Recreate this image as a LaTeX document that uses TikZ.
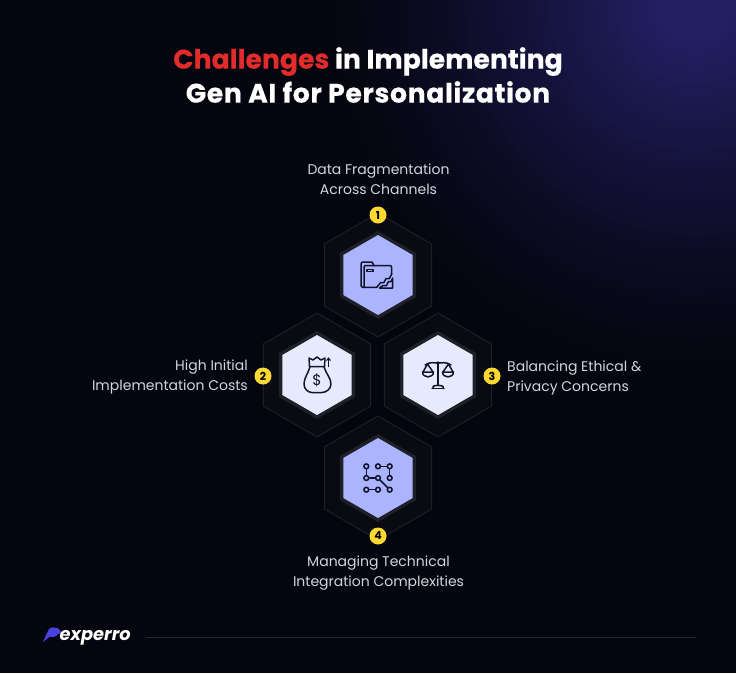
\documentclass[tikz,border=0pt]{standalone}
\usepackage{fontspec}
\setmainfont{Poppins}
\newfontfamily\heavyfont{Poppins}[BoldFeatures={FakeBold=0.35}]
\usetikzlibrary{shapes.geometric}
\definecolor{bgc}{HTML}{05050F}
\definecolor{glowc}{HTML}{231F63}
\definecolor{outerf}{HTML}{0A0A13}
\definecolor{outerl}{HTML}{1E1E2A}
\definecolor{ringc}{HTML}{1F1F28}
\definecolor{blueh}{HTML}{AAB4FF}
\definecolor{paleh}{HTML}{E6EAFC}
\definecolor{iconc}{HTML}{12132A}
\definecolor{badgec}{HTML}{FBD832}
\definecolor{redt}{HTML}{E22B2B}
\definecolor{labelc}{HTML}{D4D5DC}
\definecolor{logoc}{HTML}{4B40E0}
\definecolor{rulec}{HTML}{262633}
\tikzset{
  x=1pt,y=-1pt,
  hexpath/.style={regular polygon,regular polygon sides=6,shape border rotate=30,inner sep=0pt},
  outerhex/.style={hexpath,minimum size=124pt,fill=outerf,draw=outerl,line width=1pt},
  ringhex/.style={hexpath,minimum size=88pt,fill=ringc},
  innerblue/.style={hexpath,minimum size=80pt,fill=blueh},
  innerpale/.style={hexpath,minimum size=80pt,fill=paleh},
  badge/.style={circle,fill=badgec,minimum size=17pt,inner sep=0pt,text=black,font=\fontsize{11}{11}\selectfont\bfseries},
  lbl/.style={text=labelc,font=\fontsize{14}{20}\selectfont,inner sep=0pt},
  titletxt/.style={text=white,font=\heavyfont\fontsize{26.7}{34}\selectfont\bfseries,align=center,inner sep=0pt},
  iconline/.style={draw=iconc,line width=1.5pt,line cap=round,line join=round,fill=none},
  netdot/.style={circle,draw=iconc,line width=1.5pt,fill=none,minimum size=4.8pt,inner sep=0pt}
}
\begin{document}
\begin{tikzpicture}
\useasboundingbox (0,0) rectangle (736,673);
\fill[bgc] (0,0) rectangle (736,673);
\begin{scope}
\clip (0,0) rectangle (736,673);
\foreach \r in {380,374,...,8}{
  \pgfmathsetmacro{\mixv}{min(100,115*(1-\r/380)^1.35)}
  \fill[glowc!\mixv!bgc] (695,5) circle (\r pt);
}
\end{scope}

\node[titletxt] (title) at (368,75) {\textcolor{redt}{Challenges} in Implementing\\{\addfontfeature{LetterSpace=2.3}Gen AI for Personalization}};

% hexagons
\node[outerhex] (o1) at (378,275) {};
\node[outerhex] (o2) at (317,375) {};
\node[outerhex] (o3) at (438,375) {};
\node[outerhex] (o4) at (378,478) {};
\node[ringhex] (r1) at (378,275) {};
\node[ringhex] (r2) at (317,375) {};
\node[ringhex] (r3) at (438,375) {};
\node[ringhex] (r4) at (378,478) {};
\node[innerblue] (h1) at (378,275) {};
\node[innerpale] (h2) at (317,375) {};
\node[innerpale] (h3) at (438,375) {};
\node[innerblue] (h4) at (378,478) {};

% badges
\node[badge] (b1) at (378,215) {1};
\node[badge] (b2) at (263,376) {2};
\node[badge] (b3) at (492,376) {3};
\node[badge] (b4) at (378,536) {4};

% labels
\node[lbl,align=center] (t1) at (378.5,179.5) {Data Fragmentation\\Across Channels};
\node[lbl,align=right,anchor=east] (t2) at (248,377) {High Initial\\Implementation Costs};
\node[lbl,align=left,anchor=west] (t3) at (507,377.5) {Balancing Ethical \&\\Privacy Concerns};
\node[lbl,align=center] (t4) at (378.5,573) {Managing Technical\\Integration Complexities};

% folder icon
\begin{scope}[shift={(378,275)}]
  \draw[iconline] (-1.3,12.3) -- (-15,12.3) .. controls (-16.5,12.3) and (-17,11.3) .. (-17,10) -- (-17,-11) .. controls (-17,-12.5) and (-16,-13) .. (-15,-13) -- (-6,-13) -- (-4,-9.5) -- (12,-9.5) .. controls (13,-9.5) and (13.7,-8.5) .. (13.7,-7.5) -- (13.7,-1);
  \draw[iconline] (-14,12.3) -- (-14,-8) .. controls (-14,-9) and (-13,-9.5) .. (-12,-9.5) -- (-4,-9.5);
  \draw[iconline,line width=1.1pt] (-11,-5.5) -- (-5,-5.5) -- (-5,-3.2) -- (-11,-3.2) -- cycle;
  \draw[iconline] (-1.3,12.3) -- (2.7,7.5) -- (6,7.5) -- (8,3.5) -- (11.3,3.5) -- (13.7,-1);
  \draw[iconline] (1.5,13) -- (5,10.5) -- (8.5,10.5) -- (10.5,6.5) -- (13,6.5) -- (14.7,3) -- (14.7,13) -- cycle;
\end{scope}

% money bag icon
\begin{scope}[shift={(317,375)}]
  \draw[iconline] (-7.5,-8.5) -- (-8,-17) -- (-4,-15) -- (0,-18) -- (4,-15) -- (8,-17) -- (7.5,-8.5) -- cycle;
  \draw[iconline] (-7,-8.5) .. controls (-9,-1) and (-13,3) .. (-13,9) .. controls (-13,14) and (-9,17.5) .. (-5,17.5) -- (5,17.5) .. controls (9,17.5) and (14,14) .. (14,9) .. controls (14,3) and (9,-1) .. (7,-8.5);
  \node[text=iconc,inner sep=0pt,font=\fontsize{15}{15}\selectfont] (dollar) at (0,5) {\$};
  \draw[iconline,line width=1pt] (11.5,-8.5) -- (11.5,-17);
  \draw[iconline,line width=1pt] (9.7,-14.5) -- (11.5,-17) -- (13.3,-14.5);
\end{scope}

% scales icon
\begin{scope}[shift={(438,375)}]
  \draw[iconline] (0,-12) -- (0,10);
  \draw[iconline] (-5,13.5) -- (-5,11.5) .. controls (-4,10) and (4,10) .. (5,11.5) -- (5,13.5);
  \draw[iconline] (-6,13.5) -- (6,13.5);
  \draw[iconline] (-13,-10) .. controls (-8,-13.5) and (-4,-12) .. (0,-12) .. controls (4,-12) and (8,-13.5) .. (13,-10);
  \fill[iconc] (0,-12) circle (1.8pt);
  \draw[iconline] (-15,-3) -- (-10.5,-11) -- (-5,-3);
  \draw[iconline] (-15.5,-3) -- (-4.5,-3) .. controls (-4.5,3.5) and (-15.5,3.5) .. (-15.5,-3) -- cycle;
  \draw[iconline] (5,-3) -- (10.5,-11) -- (15,-3);
  \draw[iconline] (4.5,-3) -- (15.5,-3) .. controls (15.5,3.5) and (4.5,3.5) .. (4.5,-3) -- cycle;
\end{scope}

% network icon
\begin{scope}[shift={(378,478)}]
  \node[netdot] (n1) at (-11.7,-11.7) {};
  \node[netdot] (n2) at (0,-11.7) {};
  \node[netdot] (n3) at (11.7,-11.7) {};
  \node[netdot] (n4) at (-11.7,0) {};
  \node[netdot] (n5) at (0,0) {};
  \node[netdot] (n6) at (11.7,0) {};
  \node[netdot] (n7) at (-11.7,11.7) {};
  \node[netdot] (n8) at (0,11.7) {};
  \node[netdot] (n9) at (11.7,11.7) {};
  \draw[iconline] (n1) -- (n4);
  \draw[iconline] (n2) -- (n3);
  \draw[iconline] (n3) -- (n6);
  \draw[iconline] (n4) -- (n5);
  \draw[iconline] (n5) -- (n9);
  \draw[iconline] (n7) -- (n8);
\end{scope}

% logo
\fill[logoc] (43,642) -- (47.5,632) .. controls (48.5,627.5) and (53,626.5) .. (56,628) .. controls (58,627.5) and (60.5,630) .. (61.5,633) -- (58,634) .. controls (56,637) and (52,637.5) .. (50,636.5) -- cycle;
\node[text=white,inner sep=0pt,anchor=west,font=\heavyfont\fontsize{17.8}{18}\selectfont\bfseries\itshape] (logo) at (59.5,638) {experro};
\coordinate (ruleA) at (146,637);
\coordinate (ruleB) at (696,637);
\draw[rulec,line width=1pt] (ruleA) -- (ruleB);
\end{tikzpicture}
\end{document}
